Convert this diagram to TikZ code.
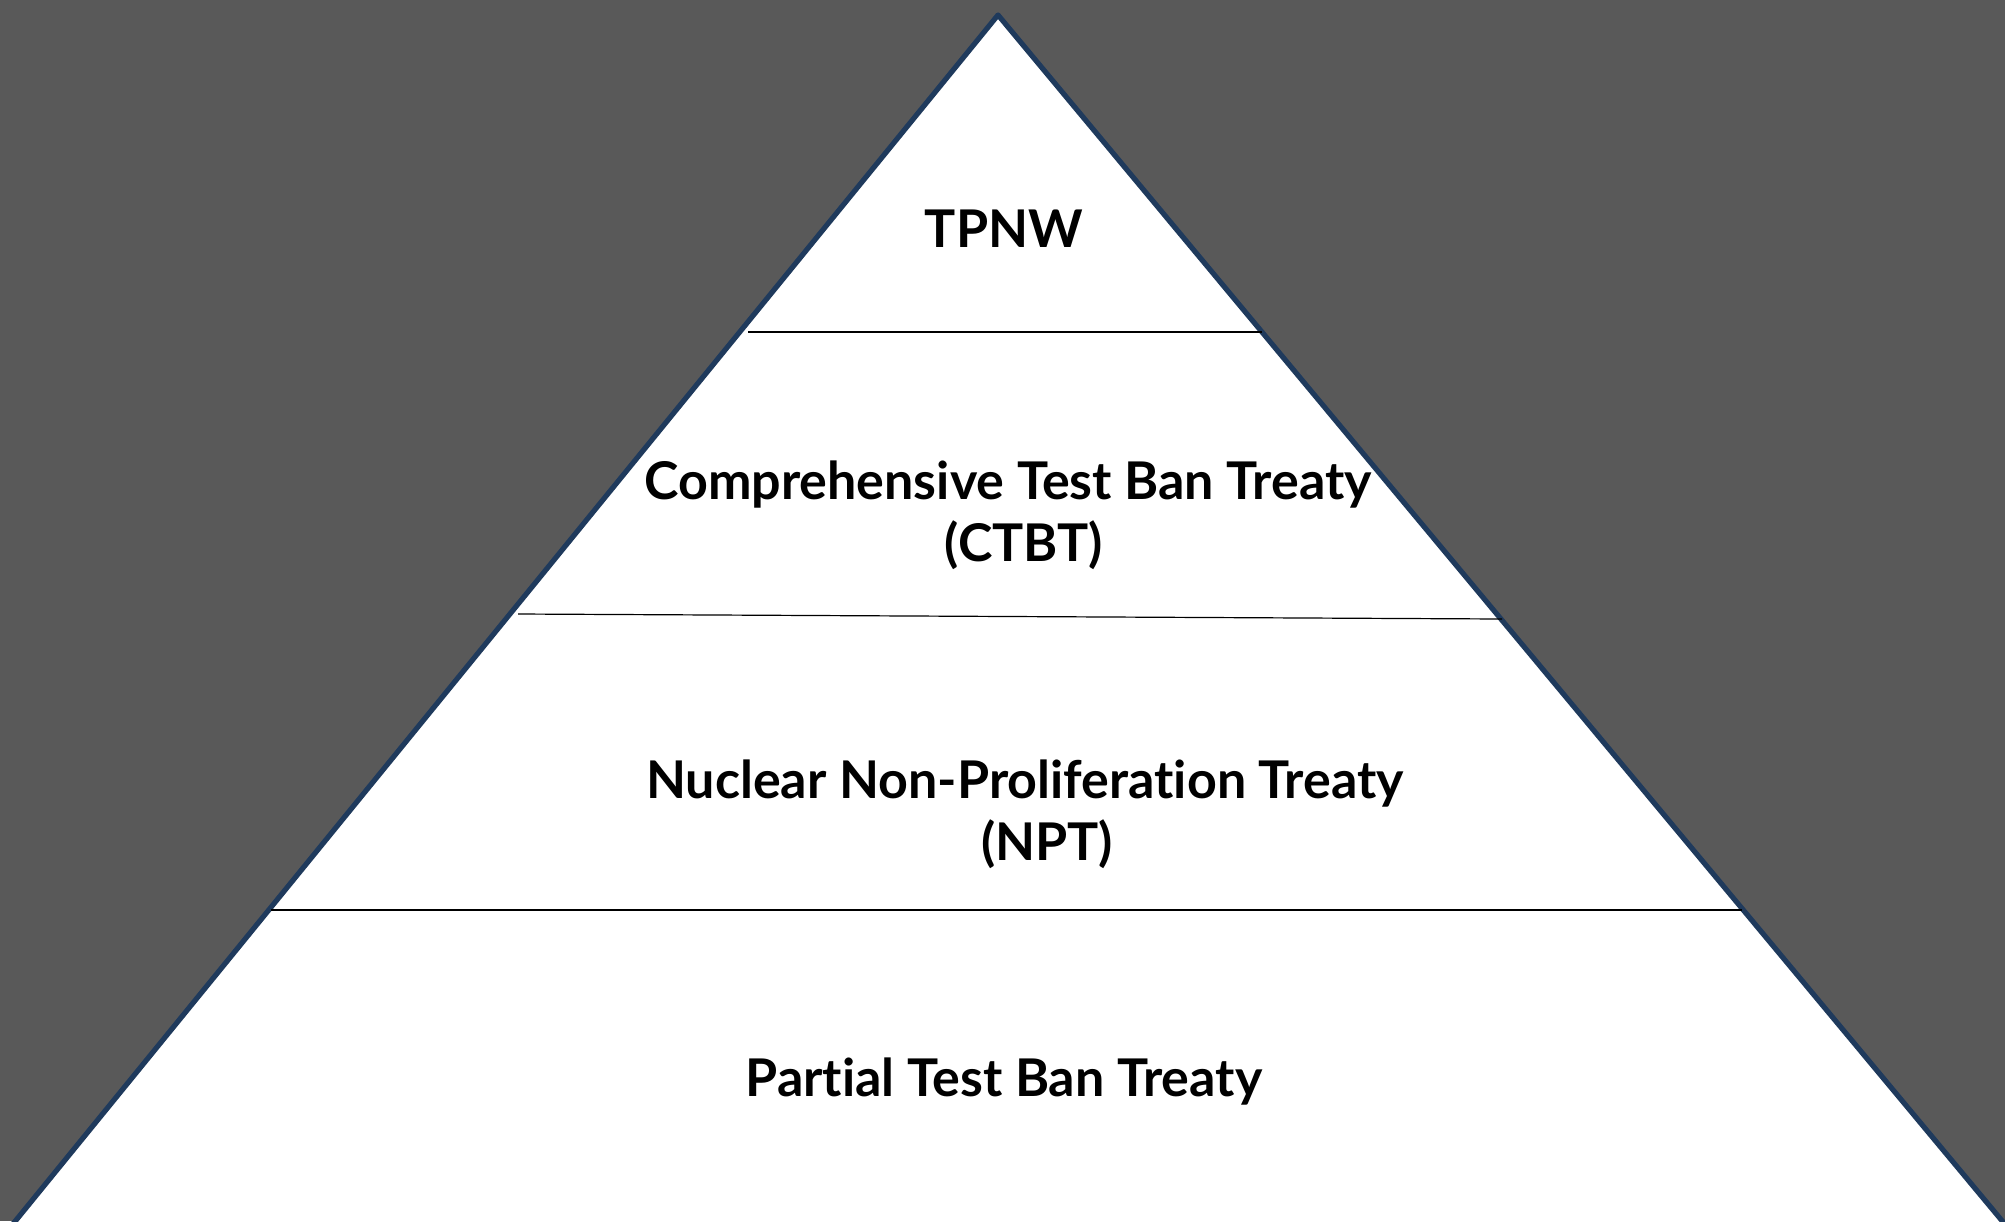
\documentclass[tikz,border=0pt]{standalone}
\usepackage{fontspec}
\setmainfont{Lato}[Ligatures=NoCommon]
\usetikzlibrary{positioning}
\definecolor{bggray}{HTML}{595959}
\definecolor{edgeblue}{HTML}{1F3A5C}

\begin{document}
\begin{tikzpicture}[x=0.5pt, y=-0.5pt,
    tier/.style={font=\fontsize{26}{31}\selectfont\bfseries, align=center, text=black},
    divider/.style={draw=black, line width=0.6pt}]
    \fill[bggray] (0,0) rectangle (2005,1221);
    \useasboundingbox (0,0) rectangle (2005,1221);

    % pyramid
    \coordinate (top) at (998,15);
    \coordinate (bl)  at (-49,1300);
    \coordinate (br)  at (2068,1300);
    \begin{scope}
        \clip (0,0) rectangle (2005,1221);
        \filldraw[fill=white, draw=edgeblue, line width=2.6pt, line join=round]
            (top) -- (bl) -- (br) -- cycle;
    \end{scope}

    % dividers
    \coordinate (d1l) at (748,332);  \coordinate (d1r) at (1262,332);
    \coordinate (d2l) at (518,614);  \coordinate (d2r) at (1502,619);
    \coordinate (d3l) at (271,910);  \coordinate (d3r) at (1742,910);
    \draw[divider] (d1l) -- (d1r);
    \draw[divider] (d2l) -- (d2r);
    \draw[divider] (d3l) -- (d3r);

    % tiers
    \node[tier] (tpnw) at (1004,229) {TPNW};
    \node[tier] (ctbt) at (1008,515) {Comprehensive Test Ban Treaty\\\hspace*{16pt}(CTBT)};
    \node[tier] (npt)  at (1025,814) {Nuclear Non-Proliferation Treaty\\\hspace*{22pt}(NPT)};
    \node[tier] (ptbt) at (1004,1082) {Partial Test Ban Treaty};
\end{tikzpicture}
\end{document}
